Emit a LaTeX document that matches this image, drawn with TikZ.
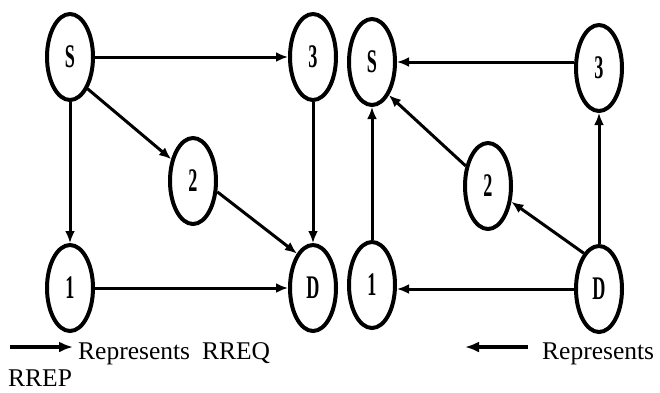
\documentclass[tikz,border=0pt]{standalone}
\usepackage{fontspec}
\setmainfont{Liberation Serif}
\usetikzlibrary{shapes.geometric,arrows.meta}
\tikzset{
  peer/.style={ellipse, draw, line width=4pt, minimum width=46pt, minimum height=86pt, inner sep=0pt},
  arr/.style={line width=3pt, -{Latex[length=12pt,width=10pt]}},
  legarr/.style={line width=3.2pt, -{Latex[length=14pt,width=11pt]}},
  legtext/.style={font=\fontsize{25.5}{26}\selectfont, inner sep=0pt}
}
\newcommand{\plabel}[1]{\scalebox{0.55}[1]{\fontsize{33}{33}\selectfont\bfseries #1}}
\begin{document}
\begin{tikzpicture}[x=1pt,y=-1pt]
\useasboundingbox (0,0) rectangle (660,392);
% route request flooding
\node[peer] (S)  at (70,57)   {\plabel{S}};
\node[peer] (T3) at (313,57)  {\plabel{3}};
\node[peer] (N2) at (193,181) {\plabel{2}};
\node[peer] (N1) at (70,288)  {\plabel{1}};
\node[peer] (D)  at (313,288) {\plabel{D}};
\draw[arr] (S) -- (T3);
\draw[arr] (S) -- (N1);
\draw[arr] (S.-61) -- (N2.135);
\draw[arr] (T3) -- (D);
\draw[arr] (N2.-24) -- (D.115);
\draw[arr] (N1) -- (D);
% route reply paths
\node[peer] (Sr)  at (372,62)  {\plabel{S}};
\node[peer] (T3r) at (599,68)  {\plabel{3}};
\node[peer] (N2r) at (488,186) {\plabel{2}};
\node[peer] (N1r) at (372,285) {\plabel{1}};
\node[peer] (Dr)  at (599,289) {\plabel{D}};
\draw[arr] (T3r.west |- Sr.east) -- (Sr.east);
\draw[arr] (N1r) -- (Sr);
\draw[arr] (N2r.138) -- (Sr.-63);
\draw[arr] (Dr) -- (T3r);
\draw[arr] (Dr.113) -- (N2r.-34);
\draw[arr] (Dr.west) -- (Dr.west -| N1r.east);
% legend
\coordinate (la0) at (10,347);
\coordinate (la1) at (73,347);
\draw[legarr] (la0) -- (la1);
\node[legtext, anchor=base west] (lt1) at (78,359) {Represents\hspace{12pt}RREQ};
\node[legtext, anchor=base west] (lt2) at (8,386) {RREP};
\coordinate (lb0) at (528,347);
\coordinate (lb1) at (465,347);
\draw[legarr] (lb0) -- (lb1);
\node[legtext, anchor=base west] (lt3) at (542,359) {Represents};
\end{tikzpicture}
\end{document}
